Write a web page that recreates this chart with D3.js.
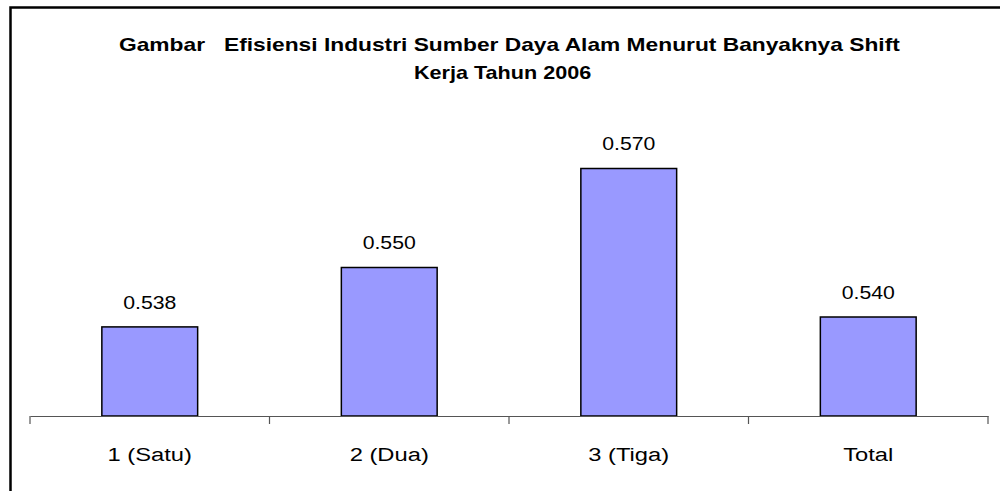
<!DOCTYPE html>
<html><head><meta charset="utf-8">
<script src="https://cdn.jsdelivr.net/npm/d3@7"></script>
<style>body{margin:0;background:#fff}svg{display:block}</style>
</head><body>
<script>
const categories = ["1 (Satu)", "2 (Dua)", "3 (Tiga)", "Total"];
const values = [0.538, 0.550, 0.570, 0.540];
const valueLabels = ["0.538", "0.550", "0.570", "0.540"];
const titleLines = ["Gambar   Efisiensi Industri Sumber Daya Alam Menurut Banyaknya Shift", "Kerja Tahun 2006"];

const W = 1000, H = 491;
const FONT = "Liberation Sans, Arial, sans-serif";
const svg = d3.select("body").append("svg").attr("width", W).attr("height", H);
svg.append("rect").attr("width", W).attr("height", H).attr("fill", "#fff");
svg.append("rect").attr("x", 10.5).attr("y", 7.5).attr("width", 1000).attr("height", 500)
  .attr("fill", "none").attr("stroke", "#000").attr("stroke-width", 2.5);

const x = d3.scaleBand().domain(categories).range([30, 988]).padding(0);
const y = d3.scaleLinear().domain([0.52, 0.58]).range([416, 119]);
const barW = x.bandwidth() * 0.4;

svg.selectAll("rect.bar").data(values).join("rect").attr("class", "bar")
  .attr("x", (d, i) => x(categories[i]) + (x.bandwidth() - barW) / 2)
  .attr("y", d => y(d))
  .attr("width", barW)
  .attr("height", d => y(0.52) - y(d))
  .attr("fill", "#9999FF").attr("stroke", "#000").attr("stroke-width", 1.5);

const ax = svg.append("g").attr("transform", `translate(0,${y(0.52)})`)
  .call(d3.axisBottom(x).tickSize(0).tickFormat(""));
ax.select(".domain").attr("stroke", "#555").attr("stroke-width", 1.2);
const bounds = categories.map(c => x(c)).concat([x.range()[1]]);
svg.selectAll("line.tk").data(bounds).join("line").attr("class", "tk")
  .attr("x1", d => d).attr("x2", d => d).attr("y1", y(0.52)).attr("y2", y(0.52) + 8)
  .attr("stroke", "#555").attr("stroke-width", 1.2);

function stretch(sel, s, cxFn) {
  sel.attr("transform", function(d, i) {
    const cx = cxFn(d, i);
    return `translate(${cx},0) scale(${s},1) translate(${-cx},0)`;
  });
}

const catX = d => x(d) + x.bandwidth() / 2;
const cats = svg.selectAll("text.cat").data(categories).join("text").attr("class", "cat")
  .attr("x", catX).attr("y", 461)
  .attr("text-anchor", "middle").attr("font-family", FONT)
  .attr("font-size", 18).attr("fill", "#000").text(d => d);
stretch(cats, 1.32, catX);

const valX = (d, i) => x(categories[i]) + x.bandwidth() / 2;
const vals = svg.selectAll("text.val").data(values).join("text").attr("class", "val")
  .attr("x", valX).attr("y", d => y(d) - 18)
  .attr("text-anchor", "middle").attr("font-family", FONT)
  .attr("font-size", 18).attr("fill", "#000").text((d, i) => valueLabels[i]);
stretch(vals, 1.18, valX);

const titleLeft = [119, 414];
const titleScale = [1.265, 1.2];
const tl = svg.selectAll("text.title").data(titleLines).join("text").attr("class", "title")
  .attr("x", (d, i) => titleLeft[i]).attr("y", (d, i) => 51 + i * 28)
  .attr("text-anchor", "start").attr("font-family", FONT)
  .attr("font-weight", "bold").attr("font-size", 18).attr("fill", "#000")
  .style("white-space", "pre").text(d => d);
tl.attr("transform", (d, i) => `translate(${titleLeft[i]},0) scale(${titleScale[i]},1) translate(${-titleLeft[i]},0)`);
</script>
</body></html>
